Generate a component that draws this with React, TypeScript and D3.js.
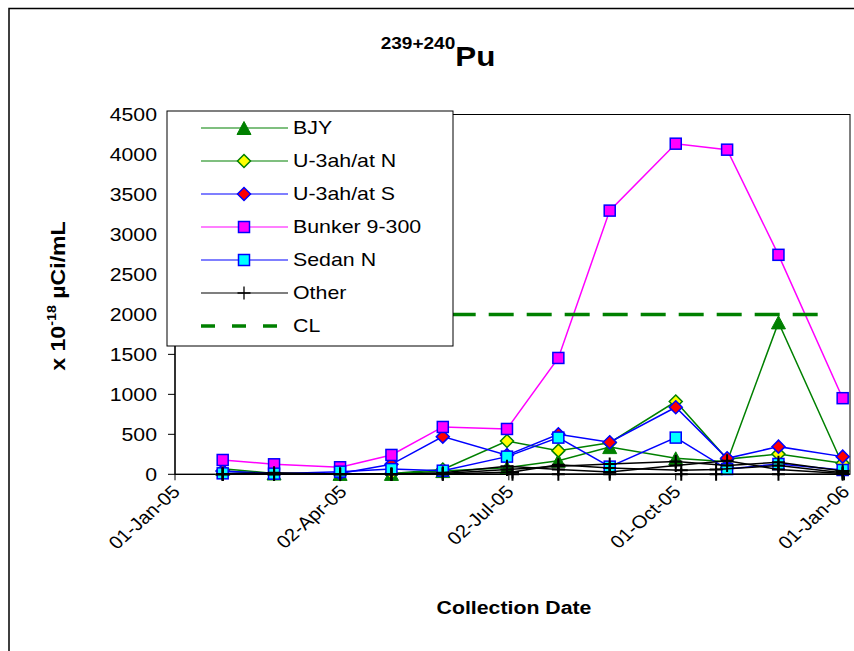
import React from "react";
import * as d3 from "d3";

const dates = [
  "2005-01-27", "2005-02-24", "2005-04-01", "2005-04-29", "2005-05-27", "2005-07-01",
  "2005-07-29", "2005-08-26", "2005-10-01", "2005-10-29", "2005-11-26", "2005-12-31",
];
const datesAlt = [
  "2005-01-27", "2005-02-24", "2005-04-01", "2005-04-29", "2005-05-27", "2005-07-04",
  "2005-07-29", "2005-08-26", "2005-10-04", "2005-10-23", "2005-11-26", "2005-12-31",
];

const bjy = [70, 10, 5, 5, 40, 83, 170, 340, 200, 158, 1900, 120];
const u3ahN = [40, 10, 5, 10, 60, 417, 296, 395, 910, 190, 254, 138];
const u3ahS = [40, 10, 10, 125, 471, 240, 501, 401, 839, 200, 346, 221];
const bunker = [179, 125, 88, 242, 592, 567, 1455, 3298, 4135, 4060, 2745, 952];
const sedanN = [12, 8, 33, 65, 45, 221, 459, 96, 459, 66, 129, 54];
const otherA = [5, 20, 5, 5, 10, 60, 100, 130, 160, 110, 150, 40];
const otherB = [0, 0, 0, 0, 20, 100, 60, 30, 110, 170, 60, 10];
const otherC = [0, 0, 0, 0, 0, 30, 120, 80, 50, 60, 110, 20];
const otherD = [0, 0, 0, 0, 0, 0, 0, 0, 0, 0, 0, 0];
const clDates = ["2005-01-27", "2005-12-18"];
const clValues = [2000, 2000];

const yTicks = [0, 500, 1000, 1500, 2000, 2500, 3000, 3500, 4000, 4500];
const xTickDates = ["2005-01-01", "2005-04-02", "2005-07-02", "2005-10-01", "2006-01-01"];
const xTickLabels = ["01-Jan-05", "02-Apr-05", "02-Jul-05", "01-Oct-05", "01-Jan-06"];

const legendNames = ["BJY", "U-3ah/at N", "U-3ah/at S", "Bunker 9-300", "Sedan N", "Other", "CL"];

const parse = (s: string) => {
  const [y, m, d] = s.split("-").map(Number);
  return new Date(y, m - 1, d);
};

const FONT = "'Liberation Sans', Arial, sans-serif";
const SX = 1.12;

type Marker = "triangle" | "diamond" | "square" | "plus";
interface Series {
  name: string;
  dates: string[];
  values: number[];
  line: string;
  marker: Marker;
  fill: string;
  stroke: string;
}

const series: Series[] = [
  { name: "BJY", dates, values: bjy, line: "#008000", marker: "triangle", fill: "#008000", stroke: "#008000" },
  { name: "U-3ah/at N", dates, values: u3ahN, line: "#008000", marker: "diamond", fill: "#FFFF00", stroke: "#008000" },
  { name: "U-3ah/at S", dates, values: u3ahS, line: "#0000FF", marker: "diamond", fill: "#FF0000", stroke: "#0000FF" },
  { name: "Bunker 9-300", dates, values: bunker, line: "#FF00FF", marker: "square", fill: "#FF00FF", stroke: "#0000FF" },
  { name: "Sedan N", dates, values: sedanN, line: "#0000FF", marker: "square", fill: "#00FFFF", stroke: "#0000FF" },
  { name: "Other", dates, values: otherA, line: "#000000", marker: "plus", fill: "none", stroke: "#000000" },
  { name: "Other", dates, values: otherB, line: "#000000", marker: "plus", fill: "none", stroke: "#000000" },
  { name: "Other", dates: datesAlt, values: otherC, line: "#000000", marker: "plus", fill: "none", stroke: "#000000" },
  { name: "Other", dates: datesAlt, values: otherD, line: "#000000", marker: "plus", fill: "none", stroke: "#000000" },
];

function MarkerShape({ type, cx, cy, fill, stroke, plusWidth = 2 }: { type: Marker; cx: number; cy: number; fill: string; stroke: string; plusWidth?: number }) {
  if (type === "triangle") {
    const w = 7, h = 6.5;
    return <path d={`M${cx},${cy - h} L${cx + w},${cy + h} L${cx - w},${cy + h} Z`} fill={fill} stroke={stroke} strokeWidth={1} />;
  }
  if (type === "diamond") {
    const r = 6.5;
    return <path d={`M${cx},${cy - r} L${cx + r},${cy} L${cx},${cy + r} L${cx - r},${cy} Z`} fill={fill} stroke={stroke} strokeWidth={1.5} />;
  }
  if (type === "square") {
    const s = 5.5;
    return <rect x={cx - s} y={cy - s} width={2 * s} height={2 * s} fill={fill} stroke={stroke} strokeWidth={1.5} />;
  }
  const s = 6.5;
  return (
    <path d={`M${cx - s},${cy} L${cx + s},${cy} M${cx},${cy - s} L${cx},${cy + s}`} stroke={stroke} strokeWidth={plusWidth} fill="none" />
  );
}

export default function App() {
  const left = 175, right = 850, top = 114.5, bottom = 474.3;
  const x = d3.scaleTime().domain([parse("2005-01-01"), parse("2006-01-04")]).range([left, right]);
  const y = d3.scaleLinear().domain([0, 4500]).range([bottom, top]);

  const lineGen = (ds: string[], vs: number[]) =>
    d3.line<number>().x((_, i) => x(parse(ds[i]))).y((v) => y(v))(vs) || "";

  const legendRowY = (i: number) => 128 + i * 33;

  return (
    <div style={{ position: "fixed", left: 0, top: 0 }}>
      <svg width={854} height={651} style={{ display: "block", background: "#fff" }} fontFamily={FONT}>
        <rect x={0} y={0} width={854} height={651} fill="#fff" />
        <rect x={9} y={8.5} width={900} height={700} fill="none" stroke="#000" strokeWidth={1.5} />

        {/* title */}
        <g transform={`translate(438,66) scale(${SX},1)`}>
          <text textAnchor="middle" fontWeight="bold" fill="#000">
            <tspan fontSize={17} dy={-17}>239+240</tspan>
            <tspan fontSize={28} dy={17}>Pu</tspan>
          </text>
        </g>

        {/* plot border */}
        <rect x={left} y={top} width={right - left} height={bottom - top} fill="none" stroke="#000" strokeWidth={1} />

        {/* y axis */}
        <line x1={left} x2={left} y1={top} y2={bottom} stroke="#000" strokeWidth={1.2} />
        {yTicks.map((t) => (
          <g key={t}>
            <line x1={left - 7} x2={left} y1={y(t)} y2={y(t)} stroke="#000" strokeWidth={1} />
            <g transform={`translate(157,${y(t)}) scale(${SX},1)`}>
              <text textAnchor="end" dy="0.36em" fontSize={19} fill="#000">{t}</text>
            </g>
          </g>
        ))}

        {/* x axis */}
        <line x1={left} x2={right} y1={bottom} y2={bottom} stroke="#000" strokeWidth={1.2} />
        {xTickDates.map((d, i) => {
          const px = x(parse(d));
          return (
            <g key={d}>
              <line x1={px} x2={px} y1={bottom} y2={bottom + 6} stroke="#000" strokeWidth={1} />
              <g transform={`translate(${px + 1},${bottom + 14}) scale(${SX},1) rotate(-45)`}>
                <text textAnchor="end" dy="0.36em" fontSize={18} fill="#000">{xTickLabels[i]}</text>
              </g>
            </g>
          );
        })}

        {/* axis titles */}
        <g transform={`translate(514,614) scale(${SX},1)`}>
          <text textAnchor="middle" fontSize={19} fontWeight="bold" fill="#000">Collection Date</text>
        </g>
        <g transform={`translate(65,296) scale(1,1.1) rotate(-90)`}>
          <text textAnchor="middle" fontSize={21} fontWeight="bold" fill="#000">
            <tspan>x 10</tspan>
            <tspan fontSize={13} dy={-9}>-18</tspan>
            <tspan dy={9}> µCi/mL</tspan>
          </text>
        </g>

        {/* series */}
        {series.map((s, si) => (
          <g key={si}>
            <path d={lineGen(s.dates, s.values)} fill="none" stroke={s.line} strokeWidth={1.5} />
            {s.values.map((v, i) => (
              <MarkerShape key={i} type={s.marker} cx={x(parse(s.dates[i]))} cy={y(v)} fill={s.fill} stroke={s.stroke} />
            ))}
          </g>
        ))}

        {/* CL */}
        <path d={lineGen(clDates, clValues)} fill="none" stroke="#008000" strokeWidth={3.5} strokeDasharray="25,13" />

        {/* legend */}
        <rect x={167} y={111} width={286} height={235} fill="#fff" stroke="#000" strokeWidth={1} />
        {legendNames.map((name, i) => {
          const ly = legendRowY(i);
          const s = series.find((q) => q.name === name);
          return (
            <g key={name}>
              {name === "CL" ? (
                <line x1={201} x2={288} y1={ly} y2={ly} stroke="#008000" strokeWidth={3.5} strokeDasharray="14,17" />
              ) : (
                <>
                  <line x1={201} x2={288} y1={ly} y2={ly} stroke={s!.line} strokeWidth={1.2} />
                  <MarkerShape type={s!.marker} cx={244} cy={ly} fill={s!.fill} stroke={s!.stroke} plusWidth={1.3} />
                </>
              )}
              <g transform={`translate(293,${ly}) scale(1.22,1)`}>
                <text dy="0.36em" fontSize={17.5} fill="#000">{name}</text>
              </g>
            </g>
          );
        })}
      </svg>
    </div>
  );
}
